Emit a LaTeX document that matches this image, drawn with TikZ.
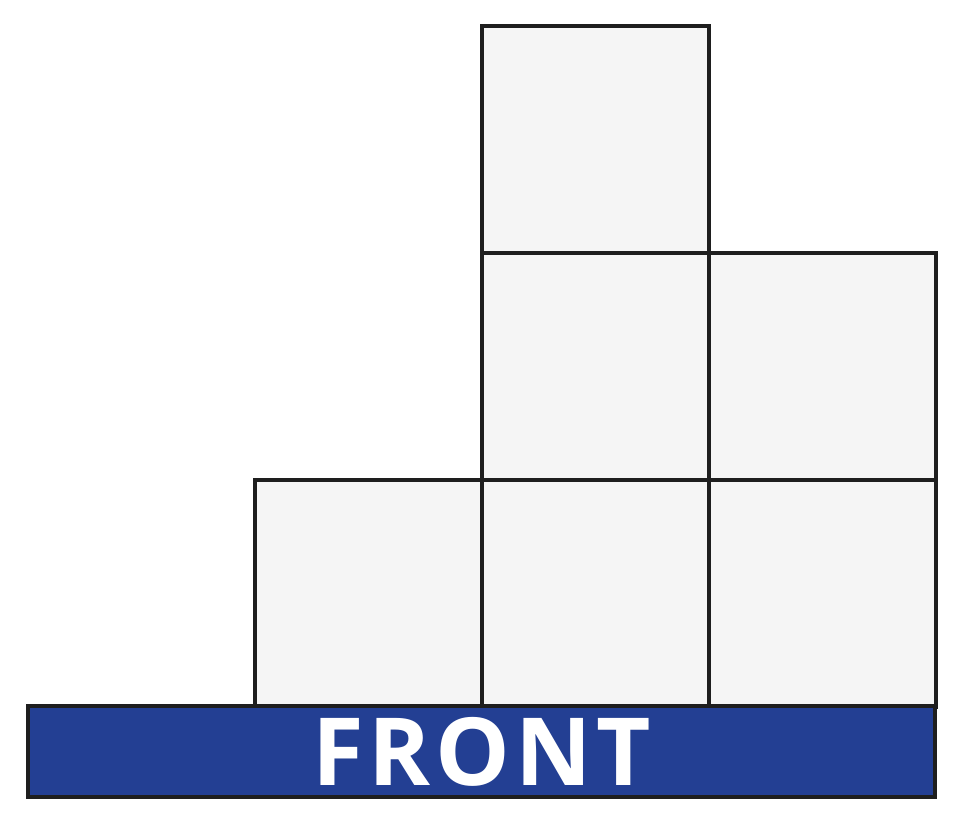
\documentclass[tikz,border=0pt]{standalone}
\usepackage{fontspec}
\setmainfont{Open Sans}
\definecolor{cellfill}{HTML}{F5F5F5}
\definecolor{edgecol}{HTML}{1E1E1E}
\definecolor{frontblue}{HTML}{233F93}
\begin{document}
\begin{tikzpicture}[x=1pt,y=-1pt,
  cell/.style={draw=edgecol,fill=cellfill,line width=3.3pt,minimum width=227pt,minimum height=227pt,inner sep=0pt,outer sep=0pt,anchor=north west},
  frontbar/.style={draw=edgecol,fill=frontblue,line width=3.3pt,minimum width=907pt,minimum height=91pt,inner sep=0pt,outer sep=0pt,anchor=north west,text=white,font=\fontsize{94}{94}\selectfont\bfseries}]
\useasboundingbox (0,0) rectangle (964,824);
\node[cell] (c1) at (255,480) {};
\node[cell] (c2a) at (482,26) {};
\node[cell] (c2b) at (482,253) {};
\node[cell] (c2c) at (482,480) {};
\node[cell] (c3b) at (709,253) {};
\node[cell] (c3c) at (709,480) {};
\node[frontbar] (front) at (28,706) {\addfontfeature{LetterSpace=5}FRONT};
\end{tikzpicture}
\end{document}
